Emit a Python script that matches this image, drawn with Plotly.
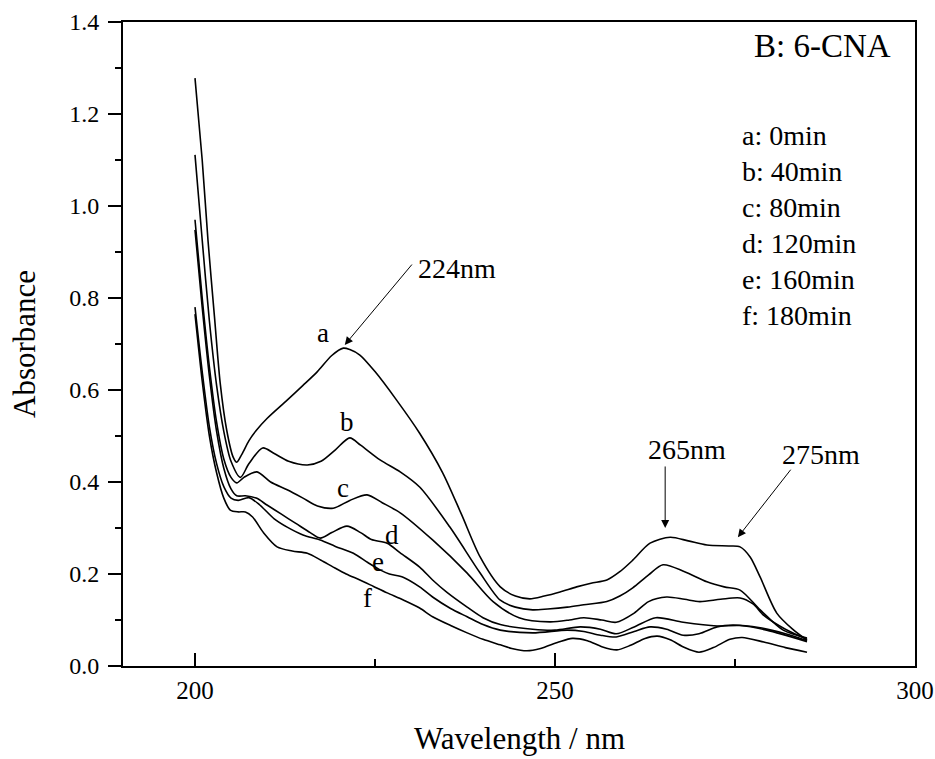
import plotly.graph_objects as go

# ---- data ----
wl_a = [200, 201, 201.8, 202.7, 203.5, 204.4, 205.3, 205.8, 206.5, 207.5, 208.5, 210, 212.8, 215, 217, 219, 220.6, 221.5, 222.9, 225, 228, 231.2, 234.4, 237, 239.6, 242.4, 244.5, 246.5, 248.5, 250.7, 253, 255, 257.2, 259, 260.8, 263.2, 266, 268.5, 271.1, 274.3, 275.7, 277.1, 278.5, 280.8, 283, 285]
abs_a = [1.278, 1.10, 0.926, 0.76, 0.615, 0.513, 0.454, 0.443, 0.46, 0.49, 0.512, 0.538, 0.578, 0.61, 0.64, 0.675, 0.691, 0.688, 0.676, 0.64, 0.578, 0.506, 0.42, 0.33, 0.237, 0.172, 0.152, 0.146, 0.152, 0.161, 0.172, 0.18, 0.187, 0.205, 0.23, 0.267, 0.28, 0.272, 0.263, 0.261, 0.259, 0.237, 0.193, 0.115, 0.08, 0.056]

wl_b = [200, 201, 202, 203, 204, 205, 206.3, 207.5, 209.4, 211, 213, 215.6, 217.5, 219.5, 221.5, 223, 225.7, 228.5, 231.2, 235.4, 239.6, 242.4, 244.5, 246.9, 249, 251.7, 254, 257.2, 259, 260.8, 263, 265, 268, 271.1, 273.5, 275.7, 278.5, 281.7, 285]
abs_b = [1.111, 0.926, 0.75, 0.61, 0.51, 0.445, 0.41, 0.44, 0.474, 0.462, 0.445, 0.437, 0.445, 0.47, 0.496, 0.48, 0.448, 0.422, 0.389, 0.302, 0.202, 0.143, 0.128, 0.122, 0.124, 0.128, 0.133, 0.14, 0.152, 0.17, 0.198, 0.22, 0.205, 0.183, 0.172, 0.165, 0.122, 0.078, 0.061]

wl_c = [200, 201, 202, 203, 204, 205, 205.8, 206.8, 208.6, 210.5, 212.8, 215, 217, 219.2, 221.5, 223.9, 226, 228.5, 233, 237.8, 241.4, 245, 249.3, 252, 254, 256.5, 258.5, 261, 263, 265.5, 268, 270.1, 273, 275.7, 277.5, 279, 282, 285]
abs_c = [0.97, 0.80, 0.65, 0.53, 0.45, 0.41, 0.398, 0.41, 0.422, 0.40, 0.383, 0.365, 0.348, 0.343, 0.36, 0.372, 0.355, 0.333, 0.274, 0.202, 0.14, 0.105, 0.096, 0.1, 0.105, 0.10, 0.095, 0.115, 0.14, 0.15, 0.145, 0.14, 0.145, 0.148, 0.135, 0.11, 0.08, 0.058]

wl_d = [200, 201, 202, 203, 204, 205, 205.8, 207, 208.5, 210, 212, 214, 216, 217.4, 219, 221.1, 223, 224.5, 226.7, 228.5, 231.2, 233, 235, 237.8, 240, 242.4, 246.9, 250, 253.5, 256.3, 258.5, 261, 264, 267.8, 272.5, 275.7, 279.4, 285]
abs_d = [0.948, 0.78, 0.63, 0.51, 0.43, 0.385, 0.37, 0.37, 0.365, 0.35, 0.33, 0.31, 0.29, 0.278, 0.29, 0.304, 0.29, 0.275, 0.267, 0.246, 0.215, 0.187, 0.16, 0.128, 0.105, 0.09, 0.08, 0.078, 0.085, 0.08, 0.07, 0.085, 0.105, 0.095, 0.087, 0.088, 0.078, 0.053]

wl_e = [200, 201, 202, 203, 204, 205, 206, 207.5, 209, 211, 212.8, 215, 217.4, 219.5, 222, 224, 225.7, 227, 228.9, 231.2, 233, 235.5, 237.8, 240, 242.4, 246.9, 251.7, 254, 256.3, 258.5, 261, 263.2, 265.5, 267.8, 270, 272.5, 274.7, 278.5, 282, 285]
abs_e = [0.78, 0.64, 0.52, 0.44, 0.39, 0.365, 0.36, 0.366, 0.35, 0.32, 0.302, 0.285, 0.274, 0.26, 0.245, 0.225, 0.209, 0.2, 0.193, 0.172, 0.15, 0.125, 0.107, 0.09, 0.078, 0.072, 0.078, 0.075, 0.067, 0.063, 0.075, 0.085, 0.08, 0.067, 0.07, 0.085, 0.089, 0.083, 0.07, 0.055]

wl_f = [200, 201, 202, 203, 204, 204.9, 206, 207, 208, 209.5, 211.4, 213.5, 215.6, 217.5, 219.2, 221, 222.9, 224.8, 226.7, 229, 231.2, 233, 235.5, 237.8, 240, 242.4, 244, 246.1, 248, 250.5, 252.4, 254.5, 256.5, 258.6, 260.5, 262.5, 264.2, 266, 268, 270, 272, 274.3, 276, 279, 282, 285]
abs_f = [0.765, 0.62, 0.50, 0.42, 0.365, 0.339, 0.335, 0.335, 0.324, 0.29, 0.259, 0.25, 0.245, 0.23, 0.215, 0.2, 0.187, 0.173, 0.159, 0.143, 0.126, 0.107, 0.088, 0.072, 0.058, 0.046, 0.038, 0.033, 0.038, 0.052, 0.06, 0.055, 0.042, 0.035, 0.045, 0.06, 0.065, 0.057, 0.04, 0.03, 0.04, 0.058, 0.062, 0.052, 0.04, 0.03]

series = [(wl_a, abs_a), (wl_b, abs_b), (wl_c, abs_c), (wl_d, abs_d), (wl_e, abs_e), (wl_f, abs_f)]

curve_letters = ["a", "b", "c", "d", "e", "f"]
letter_x = [217.8, 221.1, 220.6, 227.4, 225.4, 223.9]
letter_y = [0.724, 0.53, 0.387, 0.285, 0.226, 0.148]

legend_lines = ["a: 0min", "b: 40min", "c: 80min", "d: 120min", "e: 160min", "f: 180min"]

x_ticks = [200, 250, 300]
y_ticks = [0.0, 0.2, 0.4, 0.6, 0.8, 1.0, 1.2, 1.4]

FONT = "Liberation Serif"

fig = go.Figure()
for wl, ab in series:
    fig.add_trace(go.Scatter(x=wl, y=ab, mode="lines",
                             line=dict(color="black", width=1.6, shape="spline", smoothing=0.8),
                             showlegend=False, hoverinfo="skip"))

anns = []
for L, lx, ly in zip(curve_letters, letter_x, letter_y):
    anns.append(dict(x=lx, y=ly, text=L, showarrow=False, xref="x", yref="y",
                     font=dict(family=FONT, size=27, color="black")))

# peak annotations with arrows
anns.append(dict(x=220.8, y=0.698, ax=230.3, ay=0.876, xref="x", yref="y", axref="x", ayref="y",
                 text="", showarrow=True, arrowhead=2, arrowsize=1.6, arrowwidth=1, arrowcolor="black"))
anns.append(dict(x=236.4, y=0.865, text="224nm", showarrow=False, xref="x", yref="y",
                 font=dict(family=FONT, size=28, color="black")))
anns.append(dict(x=265.3, y=0.30, ax=265.3, ay=0.437, xref="x", yref="y", axref="x", ayref="y",
                 text="", showarrow=True, arrowhead=2, arrowsize=1.6, arrowwidth=1, arrowcolor="black"))
anns.append(dict(x=268.4, y=0.47, text="265nm", showarrow=False, xref="x", yref="y",
                 font=dict(family=FONT, size=28, color="black")))
anns.append(dict(x=275.4, y=0.28, ax=282.9, ay=0.43, xref="x", yref="y", axref="x", ayref="y",
                 text="", showarrow=True, arrowhead=2, arrowsize=1.6, arrowwidth=1, arrowcolor="black"))
anns.append(dict(x=286.9, y=0.459, text="275nm", showarrow=False, xref="x", yref="y",
                 font=dict(family=FONT, size=28, color="black")))

# title block & legend text (paper coords: plot area 123..915 x, 22..666 y)
def px_to_paper_x(px):
    return (px - 123) / 792.0

def py_to_paper_y(py):
    return (666 - py) / 644.0

anns.append(dict(x=px_to_paper_x(893), y=py_to_paper_y(46), xref="paper", yref="paper",
                 xanchor="right", yanchor="middle",
                 text="B: 6-CNA", showarrow=False, font=dict(family=FONT, size=33, color="black")))
for i, t in enumerate(legend_lines):
    anns.append(dict(x=px_to_paper_x(740), y=py_to_paper_y(136 + i * 35.8), xref="paper", yref="paper",
                     xanchor="left", yanchor="middle", text=t, showarrow=False,
                     font=dict(family=FONT, size=28, color="black")))

# axis titles
anns.append(dict(x=0.5, y=py_to_paper_y(738), xref="paper", yref="paper", xanchor="center", yanchor="middle",
                 text="Wavelength / nm", showarrow=False, font=dict(family=FONT, size=31, color="black")))
anns.append(dict(x=px_to_paper_x(24), y=0.5, xref="paper", yref="paper", xanchor="center", yanchor="middle",
                 text="Absorbance", textangle=-90, showarrow=False, font=dict(family=FONT, size=31, color="black")))

fig.update_layout(
    width=935, height=759,
    margin=dict(l=123, r=20, t=22, b=93, autoexpand=False),
    plot_bgcolor="white", paper_bgcolor="white",
    annotations=anns,
    font=dict(family=FONT, color="black"),
)
fig.update_xaxes(range=[190, 300], tickvals=x_ticks, ticktext=[str(v) for v in x_ticks],
                 ticks="inside", ticklen=13, tickwidth=1.5, tickcolor="black",
                 minor=dict(tickvals=[225, 275], ticks="inside", ticklen=7, tickwidth=1.5, tickcolor="black"),
                 showline=True, linecolor="black", linewidth=2, mirror=True, automargin=False,
                 showgrid=False, zeroline=False, ticklabelstandoff=1,
                 tickfont=dict(family=FONT, size=25, color="black"))
fig.update_yaxes(range=[0, 1.4], tickvals=y_ticks, ticktext=[f"{v:.1f}" for v in y_ticks],
                 ticks="outside", ticklen=13, tickwidth=1.5, tickcolor="black",
                 minor=dict(dtick=0.1, ticks="outside", ticklen=6, tickwidth=1.5, tickcolor="black"),
                 showline=True, linecolor="black", linewidth=2, mirror=True, automargin=False,
                 showgrid=False, zeroline=False, ticklabelstandoff=4,
                 tickfont=dict(family=FONT, size=24, color="black"))

fig.write_html("out.html")
